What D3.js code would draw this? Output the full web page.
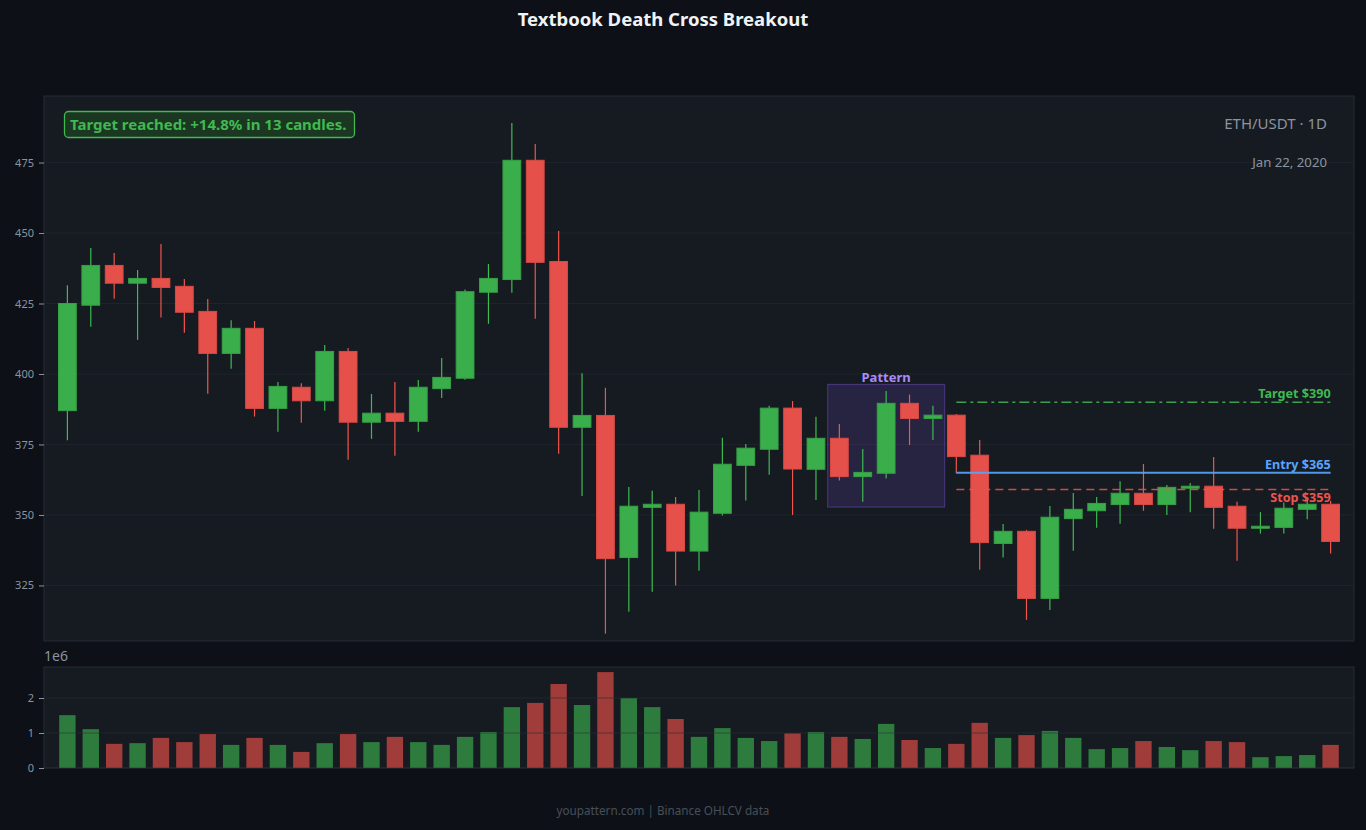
<!DOCTYPE html>
<html>
<head>
<meta charset="utf-8">
<script src="https://cdn.jsdelivr.net/npm/d3@7"></script>
<style>
  body { margin: 0; background: #0d1117; }
  svg { display: block; font-family: "Noto Sans", sans-serif; }
</style>
</head>
<body>
<div id="chart"></div>
<script>
// OHLCV data, ETH/USDT daily
const opens = [387, 424.4, 438.5, 432.2, 433.9, 431.1, 422.2, 407.3, 416.2, 387.8,
  395.3, 390.5, 408, 382.9, 386.1, 383.2, 394.8, 398.5, 429, 433.5,
  475.8, 439.9, 381.1, 385.3, 334.9, 352.7, 353.8, 337.2, 350.6, 367.6,
  373.3, 387.9, 366.2, 377.2, 363.6, 364.8, 389.6, 384.2, 385.4, 371.2,
  339.9, 344.2, 320.4, 348.7, 351.5, 353.7, 357.7, 353.7, 359.5, 360.2,
  353.1, 345.3, 345.6, 352, 353.8];
const highs = [431.5, 444.7, 442.9, 436.9, 446.1, 433.7, 426.6, 419.1, 418.8, 397.2,
  396.7, 410.3, 409.2, 392.9, 397.2, 397.9, 405.7, 430, 439, 489,
  481.6, 450.7, 400.3, 395.1, 359.9, 358.6, 356.4, 358.9, 377.4, 375.2,
  388.7, 390.4, 384.8, 382.3, 373.4, 394, 392.7, 388.7, 385.8, 376.6,
  346.8, 344.7, 353.2, 357.8, 356.4, 362, 368.1, 360.6, 361.3, 370.6,
  354.7, 351, 354.4, 355.9, 355];
const lows = [376.5, 416.8, 426.7, 412.1, 420, 414.6, 393, 401.9, 384.9, 379.5,
  382.7, 387, 369.6, 377, 371, 379.5, 391.5, 398, 417.8, 428.8,
  419.6, 371.7, 356.7, 307.9, 315.7, 322.8, 325, 330.2, 349.8, 355.1,
  364.3, 350, 355.3, 362.2, 354.7, 362.9, 374.8, 376.6, 364.8, 330.6,
  334.9, 312.8, 316.3, 337.3, 345.5, 346.9, 351.5, 350, 351, 345.1,
  333.8, 343.4, 343.4, 348.5, 336.3];
const closes = [425, 438.5, 432.2, 433.9, 430.7, 421.9, 407.3, 416.2, 387.8, 395.6,
  390.5, 408, 382.9, 386.1, 383.2, 395.3, 398.8, 429.2, 433.9, 475.8,
  439.6, 381.1, 385.3, 334.5, 353.1, 353.8, 337.2, 351, 368, 373.7,
  387.9, 366.3, 377.2, 363.6, 365.1, 389.6, 384.2, 385.4, 370.7, 340.2,
  344.2, 320.4, 349.2, 352, 354.1, 357.7, 353.7, 359.8, 360.2, 352.7,
  345.3, 346, 352.4, 353.8, 340.6];
const volumes = [1.51e6, 1.11e6, 0.69e6, 0.71e6, 0.86e6, 0.74e6, 0.97e6, 0.66e6, 0.86e6, 0.66e6,
  0.46e6, 0.71e6, 0.97e6, 0.74e6, 0.89e6, 0.74e6, 0.66e6, 0.89e6, 1.03e6, 1.74e6,
  1.86e6, 2.40e6, 1.80e6, 2.74e6, 2.00e6, 1.74e6, 1.40e6, 0.89e6, 1.14e6, 0.86e6,
  0.77e6, 0.99e6, 1.03e6, 0.89e6, 0.83e6, 1.26e6, 0.80e6, 0.57e6, 0.69e6, 1.29e6,
  0.86e6, 0.94e6, 1.06e6, 0.86e6, 0.54e6, 0.57e6, 0.77e6, 0.60e6, 0.51e6, 0.77e6,
  0.74e6, 0.31e6, 0.34e6, 0.37e6, 0.66e6];

const priceTicks = [325, 350, 375, 400, 425, 450, 475];
const volumeTicks = [0, 1e6, 2e6];

// trade levels and pattern window
const targetPrice = 390;
const entryPrice = 365;
const stopPrice = 359;
const levelStart = 38;
const levelEnd = 54;
const patternStart = 33;
const patternEnd = 37;
const patternLow = 352.8;
const patternHigh = 396.3;

const candles = opens.map((o, i) => ({
  i: i, o: o, h: highs[i], l: lows[i], c: closes[i], v: volumes[i]
}));

const W = 1366, H = 830;
const main = { left: 44, right: 1354, top: 96, bottom: 641 };
const vol = { top: 667, bottom: 768 };

const GREEN = "#3aae4a", GREEN_EDGE = "#3fb950";
const RED = "#e5504a", RED_EDGE = "#f0544c";

const svg = d3.select("#chart").append("svg").attr("width", W).attr("height", H);
svg.append("rect").attr("width", W).attr("height", H).attr("fill", "#0d1117");

const x = d3.scaleLinear().domain([-1, 55]).range([main.left, main.right]);
const y = d3.scaleLinear().domain([305.3, 498.6]).range([main.bottom, main.top]);
const yv = d3.scaleLinear().domain([0, 2.886e6]).range([vol.bottom, vol.top]);

// PANELS
svg.append("rect")
  .attr("x", main.left).attr("y", main.top)
  .attr("width", main.right - main.left).attr("height", main.bottom - main.top)
  .attr("fill", "#161b22").attr("stroke", "#262c35").attr("stroke-width", 1);
svg.append("rect")
  .attr("x", main.left).attr("y", vol.top)
  .attr("width", main.right - main.left).attr("height", vol.bottom - vol.top)
  .attr("fill", "#161b22").attr("stroke", "#262c35").attr("stroke-width", 1);

// PRICE GRID + AXIS
svg.append("g").selectAll("line").data(priceTicks).enter().append("line")
  .attr("x1", main.left).attr("x2", main.right)
  .attr("y1", (d) => y(d)).attr("y2", (d) => y(d))
  .attr("stroke", "#1f242c").attr("stroke-width", 1);

const yAxis = svg.append("g")
  .attr("transform", "translate(" + main.left + ",0)")
  .call(d3.axisLeft(y).tickValues(priceTicks).tickSize(5).tickPadding(5));
yAxis.select(".domain").remove();
yAxis.selectAll("line").attr("stroke", "#8b949e");
yAxis.selectAll("text").attr("fill", "#8b949e").style("font-size", "11px")
  .style("font-family", "Noto Sans");

// PATTERN BOX
svg.append("rect")
  .attr("x", x(patternStart - 0.5)).attr("y", y(patternHigh))
  .attr("width", x(patternEnd + 0.5) - x(patternStart - 0.5))
  .attr("height", y(patternLow) - y(patternHigh))
  .attr("fill", "rgba(139,92,246,0.15)")
  .attr("stroke", "rgba(139,92,246,0.35)").attr("stroke-width", 1.2);
svg.append("text")
  .attr("x", (x(patternStart - 0.5) + x(patternEnd + 0.5)) / 2)
  .attr("y", y(patternHigh) - 2)
  .attr("text-anchor", "middle")
  .attr("fill", "#a78bfa").style("font-size", "13px").style("font-weight", "bold")
  .text("Pattern");

// CANDLES
const bodyW = x(0.76) - x(0);
const cg = svg.append("g");
cg.selectAll("line.wick").data(candles).enter().append("line")
  .attr("class", "wick")
  .attr("x1", (d) => x(d.i)).attr("x2", (d) => x(d.i))
  .attr("y1", (d) => y(d.h)).attr("y2", (d) => y(d.l))
  .attr("stroke", (d) => (d.c >= d.o ? GREEN_EDGE : RED_EDGE))
  .attr("stroke-width", 1.2);
cg.selectAll("rect.body").data(candles).enter().append("rect")
  .attr("class", "body")
  .attr("x", (d) => x(d.i) - bodyW / 2)
  .attr("y", (d) => y(Math.max(d.o, d.c)))
  .attr("width", bodyW)
  .attr("height", (d) => Math.max(2, Math.abs(y(d.o) - y(d.c))))
  .attr("fill", (d) => (d.c >= d.o ? GREEN : RED))
  .attr("stroke", (d) => (d.c >= d.o ? "#36a046" : "#d84a44"))
  .attr("stroke-width", 1);

// LEVEL LINES
const levels = [
  { price: targetPrice, label: "Target $390", color: "#3fb950", dash: "10,4,3,4", width: 1.5, above: true },
  { price: entryPrice, label: "Entry $365", color: "#58a6ff", dash: null, width: 2, above: true },
  { price: stopPrice, label: "Stop $359", color: "#f0544c", dash: "8,5", width: 1.5, above: false }
];
levels.forEach((lv) => {
  svg.append("line")
    .attr("x1", x(levelStart)).attr("x2", x(levelEnd))
    .attr("y1", y(lv.price)).attr("y2", y(lv.price))
    .attr("stroke", lv.color).attr("stroke-width", lv.width)
    .attr("stroke-dasharray", lv.dash)
    .attr("opacity", lv.dash ? 0.85 : 0.9);
  svg.append("text")
    .attr("x", x(levelEnd)).attr("y", y(lv.price) + (lv.above ? -4 : 12))
    .attr("text-anchor", "end")
    .attr("fill", lv.color).style("font-size", "12.6px").style("font-weight", "bold")
    .text(lv.label);
});

// VOLUME BARS
const volW = x(0.7) - x(0);
svg.append("g").selectAll("rect").data(candles).enter().append("rect")
  .attr("x", (d) => x(d.i) - volW / 2)
  .attr("y", (d) => yv(d.v))
  .attr("width", volW)
  .attr("height", (d) => yv(0) - yv(d.v))
  .attr("fill", (d) => (d.c >= d.o ? "#2e7b3e" : "#a03c3a"));

svg.append("g").selectAll("line").data(volumeTicks).enter().append("line")
  .attr("x1", main.left).attr("x2", main.right)
  .attr("y1", (d) => yv(d)).attr("y2", (d) => yv(d))
  .attr("stroke", "rgba(40,46,54,0.6)").attr("stroke-width", 1);

const vAxis = svg.append("g")
  .attr("transform", "translate(" + main.left + ",0)")
  .call(d3.axisLeft(yv).tickValues(volumeTicks).tickSize(5).tickPadding(5)
    .tickFormat((d) => d / 1e6));
vAxis.select(".domain").remove();
vAxis.selectAll("line").attr("stroke", "#8b949e");
vAxis.selectAll("text").attr("fill", "#8b949e").style("font-size", "11px")
  .style("font-family", "Noto Sans");

svg.append("text").attr("x", main.left).attr("y", 661)
  .attr("fill", "#8b949e").style("font-size", "14px").text("1e6");

// ANNOTATION BOX
svg.append("rect")
  .attr("x", 64.5).attr("y", 111.5).attr("width", 290).attr("height", 26).attr("rx", 4)
  .attr("fill", "#1b3621").attr("stroke", "#3fb950").attr("stroke-width", 1.3);
svg.append("text").attr("x", 70).attr("y", 129.5)
  .attr("fill", "#3fb950").style("font-size", "15px").style("font-weight", "bold")
  .text("Target reached: +14.8% in 13 candles.");

// CORNER LABELS
svg.append("text").attr("x", 1327).attr("y", 129).attr("text-anchor", "end")
  .attr("fill", "#8b949e").style("font-size", "15px").text("ETH/USDT · 1D");
svg.append("text").attr("x", 1327).attr("y", 167).attr("text-anchor", "end")
  .attr("fill", "#8b949e").style("font-size", "13.2px").text("Jan 22, 2020");

// TITLE + FOOTER
svg.append("text").attr("x", 663).attr("y", 26).attr("text-anchor", "middle")
  .attr("fill", "#f0f3f6").style("font-size", "18.5px").style("font-weight", "bold")
  .text("Textbook Death Cross Breakout");
svg.append("text").attr("x", 663).attr("y", 815).attr("text-anchor", "middle")
  .attr("fill", "#484f58").style("font-size", "11.7px")
  .text("youpattern.com | Binance OHLCV data");
</script>
</body>
</html>
